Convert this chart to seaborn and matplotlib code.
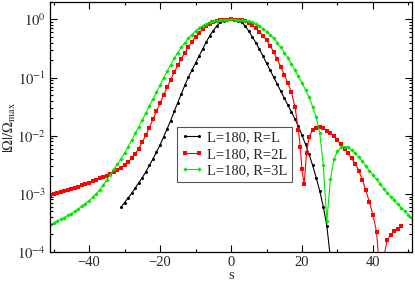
import numpy as np
import pandas as pd
import matplotlib
matplotlib.use("Agg")
import matplotlib.pyplot as plt
from matplotlib.ticker import MultipleLocator, LogLocator, NullFormatter, FuncFormatter
import seaborn as sns

# ---- data (log10 of |Omega|/Omega_max) ----
s_black = list(range(-31, 29))
black_log10 = [-3.23, -3.15, -3.07, -2.99, -2.90, -2.81, -2.72, -2.62, -2.51, -2.40,
               -2.28, -2.16, -2.02, -1.88, -1.74, -1.58, -1.43, -1.28, -1.13, -0.99,
               -0.87, -0.75, -0.63, -0.51, -0.39, -0.28, -0.19, -0.11, -0.05, -0.02,
               -0.005, 0.0,
               -0.005, -0.02, -0.05, -0.11, -0.20, -0.30, -0.40, -0.51, -0.63, -0.75,
               -0.87, -0.99, -1.11, -1.23, -1.35, -1.47, -1.59, -1.71, -1.84, -1.99,
               -2.15, -2.32, -2.51, -2.72, -2.95, -3.22, -3.55, -4.10]

s_red = list(range(-51, 20)) + [19.5, 20.0, 20.6, 21.3] + list(range(22, 49))
red_log10 = [-3.02, -3.00, -2.99, -2.97, -2.95, -2.93, -2.915, -2.895, -2.875, -2.855,
             -2.83, -2.81, -2.785, -2.76, -2.735, -2.715, -2.69, -2.66, -2.63, -2.59,
             -2.55, -2.50, -2.45, -2.39, -2.31, -2.22, -2.11, -1.99, -1.86, -1.72,
             -1.58, -1.44, -1.30, -1.17, -1.04, -0.91, -0.79, -0.68, -0.57, -0.47,
             -0.38, -0.30, -0.23, -0.17, -0.12, -0.08, -0.05, -0.03, -0.015, -0.005,
             -0.001, 0.0,
             -0.001, -0.005, -0.015, -0.03, -0.06, -0.10, -0.15, -0.21, -0.28, -0.36,
             -0.45, -0.56, -0.68, -0.81, -0.95, -1.09, -1.25, -1.50, -1.90,
             -2.20, -2.58, -2.83, -2.29,
             -2.02, -1.90, -1.86, -1.855, -1.87, -1.91, -1.95, -2.01, -2.08, -2.15,
             -2.22, -2.30, -2.39, -2.48, -2.60, -2.76, -2.94, -3.14, -3.37, -3.65,
             -4.40, -4.10, -3.80, -3.70, -3.64, -3.60, -3.55]

s_green = list(range(-51, 52))
green_log10 = [-3.53, -3.50, -3.47, -3.44, -3.41, -3.37, -3.34, -3.30, -3.26, -3.21,
               -3.17, -3.12, -3.06, -3.00, -2.93, -2.85, -2.76, -2.67, -2.58, -2.49,
               -2.40, -2.30, -2.19, -2.08, -1.96, -1.85, -1.73, -1.61, -1.49, -1.37,
               -1.25, -1.13, -1.01, -0.89, -0.78, -0.67, -0.57, -0.48, -0.40, -0.32,
               -0.26, -0.20, -0.15, -0.11, -0.08, -0.05, -0.03, -0.02, -0.01, -0.004,
               -0.001, 0.0,
               -0.001, -0.004, -0.01, -0.02, -0.03, -0.05, -0.08, -0.12, -0.16, -0.21,
               -0.26, -0.32, -0.40, -0.48, -0.57, -0.66, -0.76, -0.87, -0.98, -1.09,
               -1.21, -1.34, -1.50, -1.68, -1.95, -2.50, -3.47, -2.75, -2.40, -2.27,
               -2.20, -2.19, -2.20, -2.25, -2.30, -2.37, -2.44, -2.52, -2.60, -2.68,
               -2.75, -2.83, -2.91, -2.98, -3.05, -3.11, -3.18, -3.24, -3.30, -3.36,
               -3.42]

labels = ["L=180, R=L", "L=180, R=2L", "L=180, R=3L"]
colors = ["#000000", "#ff0000", "#00e600"]
markers = ["o", "s", "D"]

sns.set_style("ticks")
plt.rcParams["font.family"] = ["Liberation Serif", "DejaVu Serif"]
plt.rcParams["mathtext.fontset"] = "stix"

fig = plt.figure(figsize=(4.15, 2.82), dpi=100)
ax = fig.add_axes([0.1205, 0.1064, 0.8723, 0.8866])

series = [(s_black, black_log10), (s_red, red_log10), (s_green, green_log10)]
for (sx, ly), lab, c, m in zip(series, labels, colors, markers):
    df = pd.DataFrame({"s": sx, "v": np.power(10.0, ly)})
    sns.lineplot(data=df, x="s", y="v", ax=ax, color=c, marker=m, markersize=2.2,
                 markeredgewidth=0, linewidth=0.8, label=lab, sort=False,
                 estimator=None)

ax.set_yscale("log")
ax.set_xlim(-51, 51)
ax.set_ylim(1e-4, 2.0)
ax.xaxis.set_major_locator(MultipleLocator(20))
ax.xaxis.set_minor_locator(MultipleLocator(10))
ax.yaxis.set_major_locator(LogLocator(base=10, numticks=10))
ax.yaxis.set_minor_locator(LogLocator(base=10, subs=np.arange(2, 10), numticks=20))
ax.yaxis.set_minor_formatter(NullFormatter())
ax.yaxis.set_major_formatter(FuncFormatter(lambda v, p: r"$10^{%d}$" % int(round(np.log10(v)))))

ax.tick_params(which="both", direction="in", top=True, right=True, labelsize=10.5,
               color="black", width=0.8, pad=3)
ax.tick_params(which="major", length=5)
ax.tick_params(which="minor", length=2.5)
for sp in ax.spines.values():
    sp.set_color("black")
    sp.set_linewidth(0.9)

ax.set_xlabel("s", fontsize=10.5, labelpad=0)
ax.set_ylabel(r"$|\Omega|/\Omega_{\rm max}$", fontsize=10.5)
ax.yaxis.set_label_coords(-0.088, 0.5)

leg = ax.legend(loc="upper left", bbox_to_anchor=(0.35, 0.5), fontsize=10.5,
                frameon=True, fancybox=False, framealpha=1, edgecolor="#555555",
                handlelength=1.5, handletextpad=0.3, borderpad=0.3,
                labelspacing=0.22, borderaxespad=0, numpoints=2)
leg.get_frame().set_linewidth(0.8)

fig.savefig("out.png", dpi=100)
